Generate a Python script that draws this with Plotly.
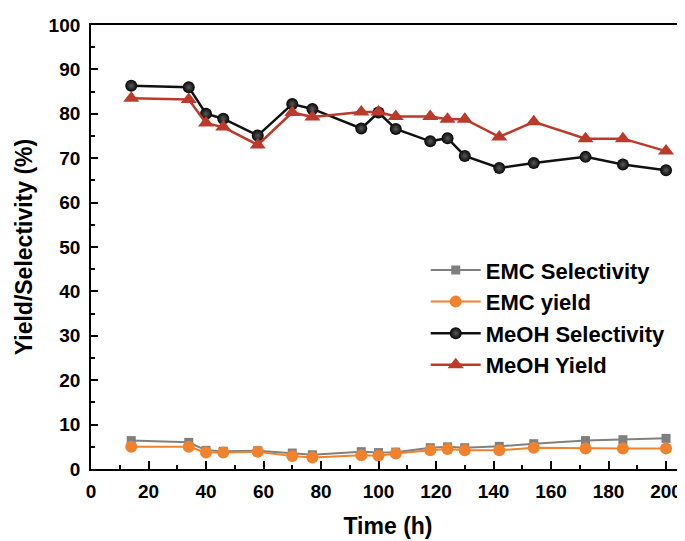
import plotly.graph_objects as go

# ---- data ----
time_h = [14, 34, 40, 46, 58, 70, 77, 94, 100, 106, 118, 124, 130, 142, 154, 172, 185, 200]

emc_selectivity = [6.4, 6.0, 4.2, 4.0, 4.1, 3.6, 3.2, 3.9, 3.7, 3.8, 4.8, 5.0, 4.8, 5.1, 5.7, 6.4, 6.6, 6.9]
emc_yield = [5.0, 5.0, 3.7, 3.7, 3.9, 2.9, 2.6, 3.1, 3.0, 3.5, 4.2, 4.5, 4.2, 4.2, 4.8, 4.6, 4.6, 4.6]
meoh_selectivity = [86.3, 86.0, 80.0, 78.9, 75.1, 82.2, 81.1, 76.7, 80.3, 76.6, 73.8, 74.5, 70.5, 67.8, 68.9, 70.3, 68.6, 67.3]
meoh_yield = [83.5, 83.2, 77.9, 77.0, 73.0, 80.3, 79.3, 80.4, 80.4, 79.4, 79.4, 78.8, 78.8, 74.8, 78.2, 74.4, 74.4, 71.6]

series_names = ["EMC Selectivity", "EMC yield", "MeOH Selectivity", "MeOH Yield"]

x_ticks = [0, 20, 40, 60, 80, 100, 120, 140, 160, 180, 200]
y_ticks = [0, 10, 20, 30, 40, 50, 60, 70, 80, 90, 100]

FONT = "Arial, Liberation Sans, sans-serif"

fig = go.Figure()

fig.add_trace(go.Scatter(
    x=time_h, y=emc_selectivity, name=series_names[0], mode="lines+markers",
    line=dict(color="#808080", width=2),
    marker=dict(symbol="square", size=9, color="#7f7f7f"),
    legendgroup="a",
))
fig.add_trace(go.Scatter(
    x=time_h, y=emc_yield, name=series_names[1], mode="lines+markers",
    line=dict(color="#F0822D", width=2),
    marker=dict(symbol="circle", size=12, color="#F0822D"),
    legendgroup="b",
))
fig.add_trace(go.Scatter(
    x=time_h, y=meoh_selectivity, name=series_names[2], mode="lines+markers",
    line=dict(color="#111111", width=2.5),
    marker=dict(symbol="circle", size=12, color="#050505",
                gradient=dict(type="radial", color="#5a5a5a")),
    legendgroup="c",
))
fig.add_trace(go.Scatter(
    x=time_h, y=meoh_yield, name=series_names[3], mode="lines+markers",
    line=dict(color="#BB3A2B", width=2.5),
    marker=dict(symbol="triangle-up", size=14, color="#BB3A2B"),
    legendgroup="d",
))

# page body has an 8px default margin, so the figure is made 8px smaller
fig.update_layout(
    width=677, height=533,
    margin=dict(l=83, r=0, t=17, b=72, autoexpand=False),
    paper_bgcolor="white", plot_bgcolor="white",
    font=dict(family=FONT, color="black"),
    showlegend=True,
    legend=dict(
        x=0.5635, y=0.495, xanchor="left", yanchor="top",
        font=dict(family=FONT, size=22, color="black", weight="bold"),
        bgcolor="rgba(0,0,0,0)", traceorder="grouped", tracegroupgap=0,
        itemwidth=50,
    ),
)

fig.update_xaxes(
    range=[0, 206.6], tickmode="array", tickvals=x_ticks,
    ticktext=[str(v) for v in x_ticks],
    showgrid=False, zeroline=False,
    showline=True, linecolor="black", linewidth=1.8, mirror=True,
    ticks="inside", ticklen=8, tickwidth=1.5, tickcolor="black",
    minor=dict(dtick=10, tick0=0, ticks="inside", ticklen=4, tickwidth=1.5, tickcolor="black"),
    tickfont=dict(family=FONT, size=19, color="black", weight="bold"),
    ticklabelstandoff=4,
    title=dict(text="Time (h)", font=dict(family=FONT, size=23, color="black", weight="bold"), standoff=17),
)
fig.update_yaxes(
    range=[0, 100], tickmode="array", tickvals=y_ticks,
    ticktext=[str(v) for v in y_ticks],
    showgrid=False, zeroline=False,
    showline=True, linecolor="black", linewidth=1.8,
    ticks="inside", ticklen=7, tickwidth=1.5, tickcolor="black",
    minor=dict(dtick=5, tick0=0, ticks="inside", ticklen=4, tickwidth=1.5, tickcolor="black"),
    tickfont=dict(family=FONT, size=19, color="black", weight="bold"),
    ticklabelstandoff=5,
    title=dict(text="Yield/Selectivity (%)", font=dict(family=FONT, size=23, color="black", weight="bold"), standoff=10),
)

fig.write_html("out.html")
